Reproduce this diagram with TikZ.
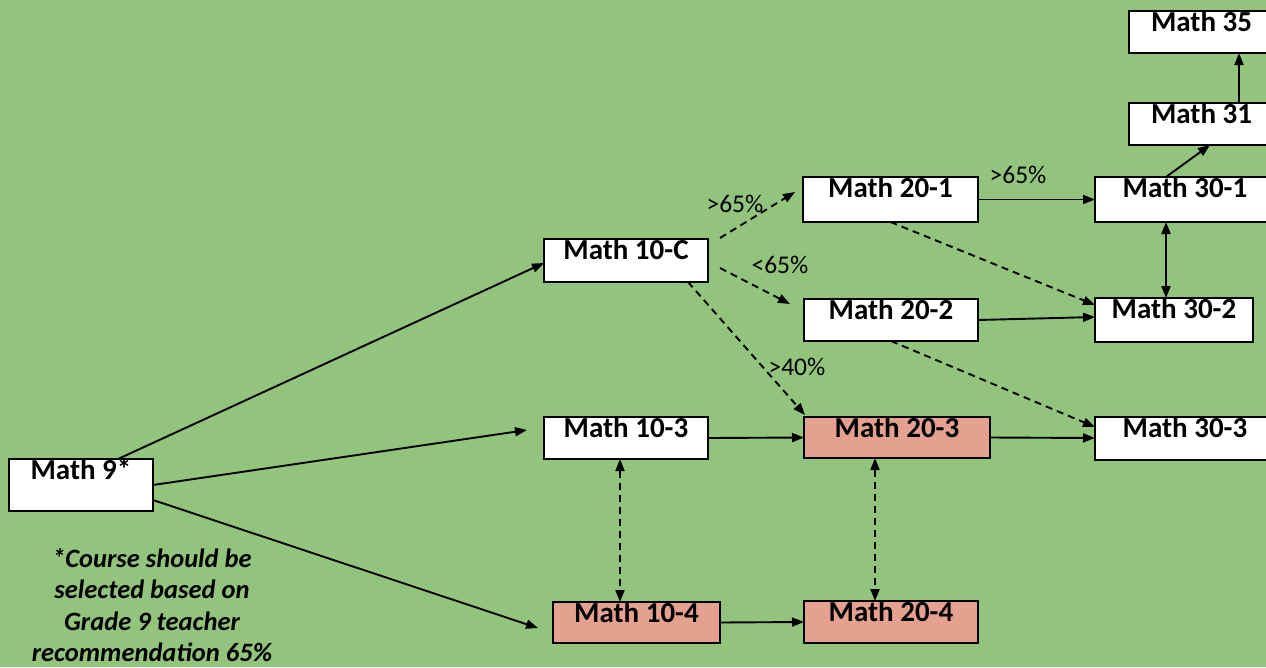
\documentclass[tikz,border=0pt]{standalone}
\usepackage{fontspec}
\setmainfont{Carlito}
\usetikzlibrary{arrows.meta,calc}
\definecolor{bg}{RGB}{147,196,125}
\definecolor{salmon}{RGB}{229,161,144}
\begin{document}
\begin{tikzpicture}[x=1pt,y=-1pt,
 box/.style={draw=black, line width=2pt, fill=white, anchor=north west, inner sep=0pt, outer sep=0pt},
 hot/.style={box, fill=salmon},
 ttl/.style={anchor=north, inner sep=0pt, outer sep=0pt, font=\fontsize{29}{30}\selectfont\bfseries},
 conn/.style={line width=1.9pt, -{Triangle[length=12pt,width=9pt]}},
 both/.style={line width=1.9pt, {Triangle[length=12pt,width=9pt]}-{Triangle[length=12pt,width=9pt]}},
 dsh/.style={dash pattern=on 7pt off 5pt},
 pct/.style={anchor=base, inner sep=0pt, font=\fontsize{25.5}{30}\selectfont},
 ]
\fill[bg] (0,0) rectangle (1266,667);
\useasboundingbox (0,0) rectangle (1266,667);

% boxes
\node (m35) [box, minimum width=145, minimum height=42, label={[ttl]north:Math 35}] at (1129,11) {};
\node (m31) [box, minimum width=145, minimum height=42, label={[ttl]north:Math 31}] at (1129,103) {};
\node (m301) [box, minimum width=180, minimum height=45, label={[ttl]north:Math 30-1}] at (1095,177) {};
\node (m302) [box, minimum width=158, minimum height=44, label={[ttl]north:Math 30-2}] at (1095,298) {};
\node (m303) [box, minimum width=180, minimum height=43, label={[ttl]north:Math 30-3}] at (1095,417) {};
\node (m201) [box, minimum width=175, minimum height=45, label={[ttl]north:Math 20-1}] at (803,177) {};
\node (m202) [box, minimum width=174, minimum height=42, label={[ttl]north:Math 20-2}] at (804,299) {};
\node (m203) [hot, minimum width=186, minimum height=41, label={[ttl]north:Math 20-3}] at (804,417) {};
\node (m10c) [box, minimum width=164, minimum height=43, label={[ttl]north:Math 10-C}] at (544,239) {};
\node (m103) [box, minimum width=164, minimum height=42, label={[ttl]north:Math 10-3}] at (544,417) {};
\node (m104) [hot, minimum width=167, minimum height=41, label={[ttl]north:Math 10-4}] at (553,602) {};
\node (m204) [hot, minimum width=174, minimum height=42, label={[ttl]north:Math 20-4}] at (804,601) {};
\node (m9) [box, minimum width=144, minimum height=52, label={[ttl]north:Math 9*}] at (9,459) {};

% connectors from Math 9*
\draw[conn] ($(m9.north west)+(109,0)$) -- ($(m10c.north west)+(0,24)$);
\draw[conn] ($(m9.north east)+(0,26)$) -- ($(m103.north west)+(-17,13)$);
\draw[conn] ($(m9.north east)+(0,41)$) -- ($(m104.north west)+(-15,26)$);

% from Math 10-C
\draw[conn,dsh] ($(m10c.north east)+(12,-1)$) -- ($(m201.north west)+(-8,15)$);
\draw[conn,dsh] ($(m10c.north east)+(12,29)$) -- ($(m202.north west)+(-14,5)$);
\draw[conn,dsh] ($(m10c.south east)+(-20,0)$) -- ($(m203.north west)+(1,-2)$);

% horizontal solid
\draw[conn] (m103.east) -- (m203.west);
\draw[conn] (m203.east) -- ($(m303.north west)+(0,21)$);
\draw[conn] (m201.east) -- (m301.west);
\draw[conn] (m202.east) -- ($(m302.north west)+(0,19)$);
\draw[conn] (m104.east) -- (m204.west);

% dashed to 30-level
\draw[conn,dsh] (m201.south) -- ($(m302.north west)+(0,7)$);
\draw[conn,dsh] (m202.south) -- ($(m303.north west)+(0,10)$);

% verticals
\draw[both] ($(m301.south west)+(71,0)$) -- ($(m302.north west)+(71,0)$);
\draw[conn] ($(m301.north west)+(71,0)$) -- ($(m31.south west)+(81,0)$);
\draw[conn] ($(m31.north west)+(110,0)$) -- ($(m35.south west)+(110,0)$);
\draw[both,dsh] ($(m103.south west)+(76,0)$) -- ($(m104.north west)+(67,0)$);
\draw[both,dsh] ($(m203.south west)+(71,0)$) -- ($(m204.north west)+(71,0)$);

% percentage labels
\node (p1) [pct] at (735,212) {>65\%};
\node (p2) [pct] at (780,273) {<65\%};
\node (p3) [pct] at (797,375) {>40\%};
\node (p4) [pct] at (1018,183) {>65\%};

% note
\node (note) [anchor=north, align=center, inner sep=0pt, font=\fontsize{26.5}{31.5}\selectfont\bfseries\itshape] at (152,548) {*Course should be\\selected based on\\Grade 9 teacher\\recommendation 65\%};
\end{tikzpicture}
\end{document}
